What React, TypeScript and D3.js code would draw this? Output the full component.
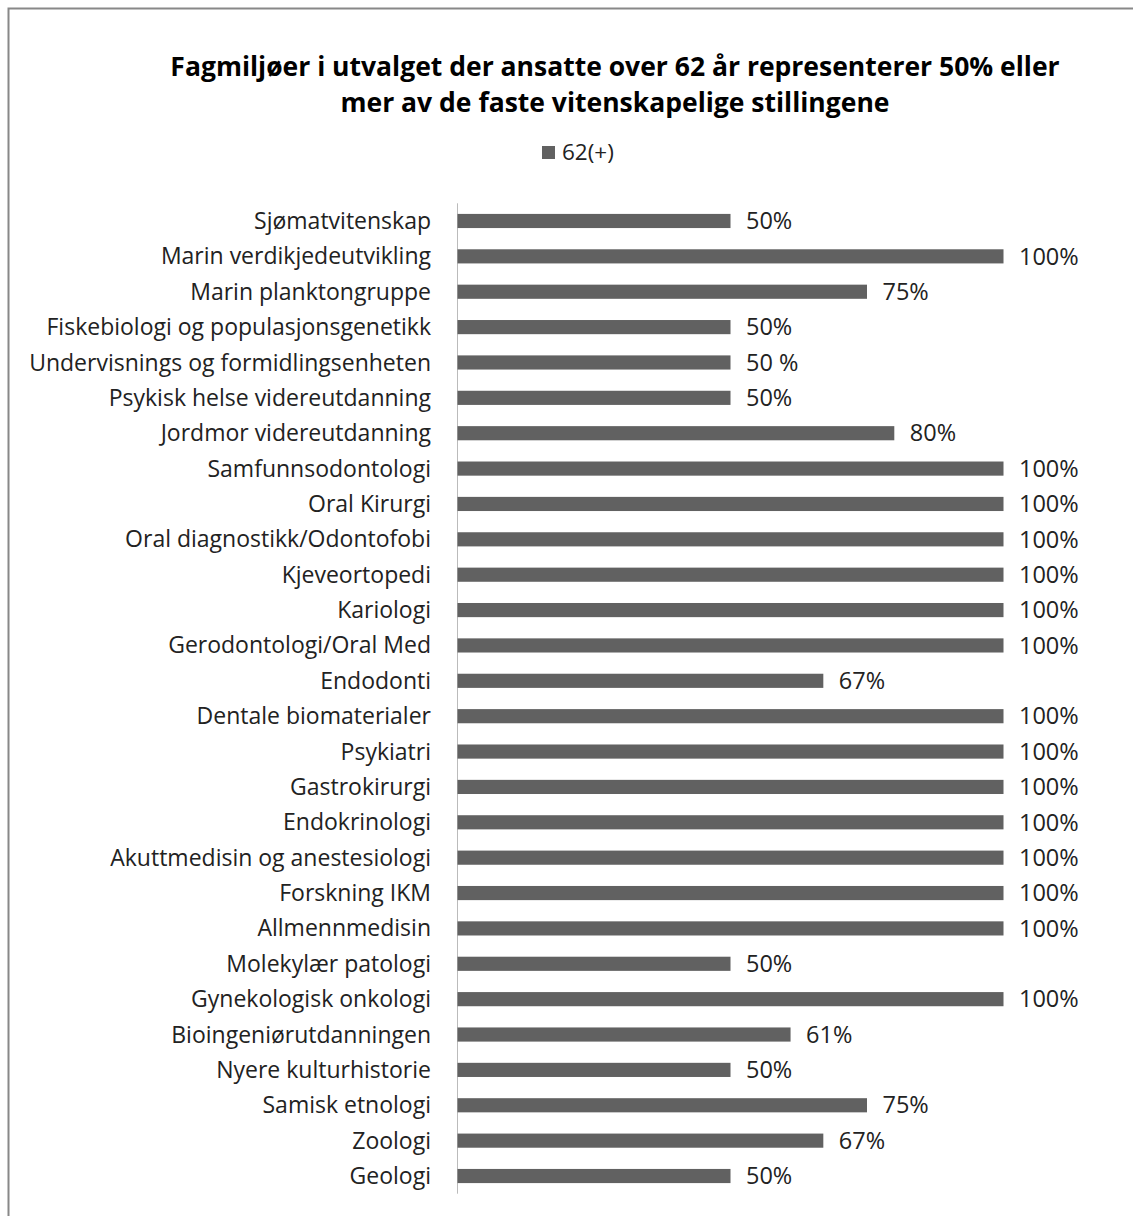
import React from "react";
import * as d3 from "d3";

const categories = [
  "Sjømatvitenskap",
  "Marin verdikjedeutvikling",
  "Marin planktongruppe",
  "Fiskebiologi og populasjonsgenetikk",
  "Undervisnings og formidlingsenheten",
  "Psykisk helse videreutdanning",
  "Jordmor videreutdanning",
  "Samfunnsodontologi",
  "Oral Kirurgi",
  "Oral diagnostikk/Odontofobi",
  "Kjeveortopedi",
  "Kariologi",
  "Gerodontologi/Oral Med",
  "Endodonti",
  "Dentale biomaterialer",
  "Psykiatri",
  "Gastrokirurgi",
  "Endokrinologi",
  "Akuttmedisin og anestesiologi",
  "Forskning IKM",
  "Allmennmedisin",
  "Molekylær patologi",
  "Gynekologisk onkologi",
  "Bioingeniørutdanningen",
  "Nyere kulturhistorie",
  "Samisk etnologi",
  "Zoologi",
  "Geologi",
];

const values = [
  50, 100, 75, 50, 50, 50, 80, 100, 100, 100, 100, 100, 100, 67, 100, 100, 100,
  100, 100, 100, 100, 50, 100, 61, 50, 75, 67, 50,
];

const valueLabels = [
  "50%", "100%", "75%", "50%", "50 %", "50%", "80%", "100%", "100%", "100%",
  "100%", "100%", "100%", "67%", "100%", "100%", "100%", "100%", "100%",
  "100%", "100%", "50%", "100%", "61%", "50%", "75%", "67%", "50%",
];

const seriesName = "62(+)";
const titleLines = [
  "Fagmiljøer i utvalget der ansatte over 62 år representerer 50% eller",
  "mer av de faste vitenskapelige stillingene",
];

const W = 1133;
const H = 1216;
const FONT = "'Open Sans', sans-serif";
const BAR = "#616161";

export default function App() {
  const x = d3.scaleLinear().domain([0, 100]).range([457, 1003]);
  const y = d3
    .scaleBand<string>()
    .domain(categories)
    .range([203.3, 1193.7])
    .paddingInner(0.6)
    .paddingOuter(0.3);
  const bw = y.bandwidth();

  return (
    <svg
      width={W}
      height={H}
      style={{ position: "absolute", left: 0, top: 0, background: "#fff" }}
      fontFamily={FONT}
    >
      <rect x={8.5} y={8.5} width={W + 20} height={H + 20} fill="#fff" stroke="#888" strokeWidth={2} />
      {titleLines.map((t, i) => (
        <text
          key={i}
          x={615}
          y={76 + i * 36}
          textAnchor="middle"
          fontWeight="bold"
          fontSize={26.5}
          fill="#000"
        >
          {t}
        </text>
      ))}
      <rect x={542} y={146} width={13} height={13} fill={BAR} />
      <text x={562} y={160} fontSize={22.5} fill="#222">
        {seriesName}
      </text>
      <line x1={457.5} x2={457.5} y1={y.range()[0]} y2={y.range()[1]} stroke="#bbb" strokeWidth={1} />
      {categories.map((c, i) => {
        const yc = (y(c) as number) + bw / 2;
        return (
          <g key={c}>
            <text x={431} y={yc} dy="0.35em" textAnchor="end" fontSize={23} fill="#222">
              {c}
            </text>
            <rect x={x(0) + 0.5} y={y(c)} width={x(values[i]) - x(0)} height={bw} fill={BAR} />
            <text x={x(values[i]) + 16} y={yc} dy="0.35em" fontSize={23.5} fill="#222">
              {valueLabels[i]}
            </text>
          </g>
        );
      })}
    </svg>
  );
}
